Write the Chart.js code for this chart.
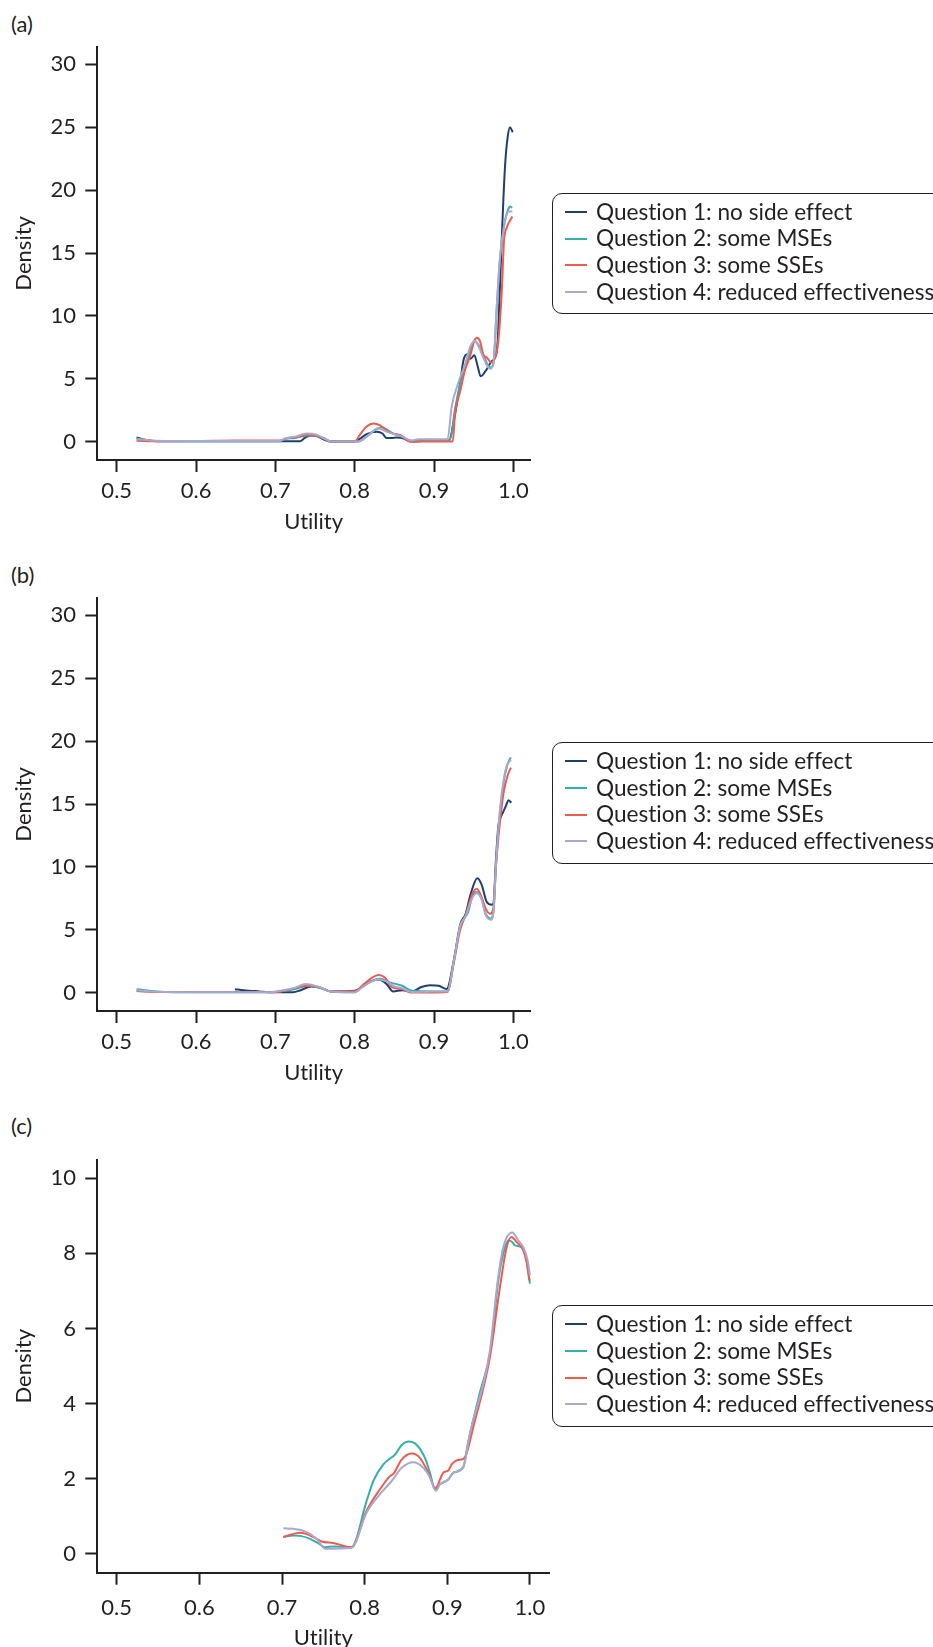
<!DOCTYPE html>
<html>
<head>
<meta charset="utf-8">
<script src="https://cdn.jsdelivr.net/npm/chart.js@4/dist/chart.umd.min.js"></script>
<style>
    html, body { margin: 0; padding: 0; background: #fff; overflow: hidden; }
    body { width: 933px; height: 1647px; position: relative; font-family: Lato, sans-serif; color: #231f20;
           font-variant-ligatures: none; }
    .panel-label { position: absolute; left: 11px; font-size: 22px; line-height: 26px; }
    canvas { position: absolute; left: 0; }
    .legend { position: absolute; left: 552px; width: 400px; box-sizing: border-box;
              border: 1.5px solid #231f20; border-radius: 10px; padding: 5px 0 8px 0; background: #fff; }
    .legend .item { position: relative; height: 26.7px; line-height: 26.7px; font-size: 22.6px;
                    white-space: nowrap; padding-left: 43px; }
    .legend .swatch { position: absolute; left: 12px; top: 12.4px; width: 22px; height: 2px; }
</style>
</head>
<body>
<div class="panel-label" style="top: 11px;">(a)</div>
<div class="panel-label" style="top: 562px;">(b)</div>
<div class="panel-label" style="top: 1113px;">(c)</div>

<canvas id="chartA" width="560" height="545" style="top: 0px;"></canvas>
<canvas id="chartB" width="560" height="545" style="top: 550.5px;"></canvas>
<canvas id="chartC" width="560" height="548" style="top: 1112.6px;"></canvas>

<div class="legend" id="legendA" style="top: 192.7px;"></div>
<div class="legend" id="legendB" style="top: 742px;"></div>
<div class="legend" id="legendC" style="top: 1305px;"></div>

<script>
// Series names and colours
const seriesLabels = [
    'Question 1: no side effect',
    'Question 2: some MSEs',
    'Question 3: some SSEs',
    'Question 4: reduced effectiveness',
];
const seriesColors = ['#1f3f70', '#33aeb1', '#ef5b4b', '#a8a9cf'];

// Tick values
const xTicks = [0.5, 0.6, 0.7, 0.8, 0.9, 1.0];
const yTicksAB = [0, 5, 10, 15, 20, 25, 30];
const yTicksC = [0, 2, 4, 6, 8, 10];

// (a) utility / density
const aQ1u = [0.525, 0.535, 0.55, 0.60, 0.65, 0.70, 0.731, 0.737, 0.744, 0.752, 0.760, 0.769, 0.80, 0.806, 0.815, 0.8277, 0.835, 0.840, 0.846, 0.853, 0.862, 0.870, 0.90, 0.919, 0.9244, 0.933, 0.9372, 0.942, 0.9462, 0.9508, 0.955, 0.9588, 0.9664, 0.9727, 0.979, 0.981, 0.9853, 0.9895, 0.9928, 0.9958, 0.9992];
const aQ1d = [0.34, 0.15, 0.04, 0.03, 0.03, 0.03, 0.03, 0.3, 0.5, 0.45, 0.2, 0.02, 0.02, 0.2, 0.6, 0.8, 0.65, 0.3, 0.3, 0.33, 0.25, 0.02, 0.1, 0.1, 1.46, 4.7, 6.5, 6.95, 6.6, 6.87, 6.0, 5.2, 5.75, 6.4, 7.1, 8.9, 16.0, 21.9, 24.2, 25.0, 24.6];
const aQ2u = [0.525, 0.55, 0.60, 0.65, 0.705, 0.712, 0.725, 0.74, 0.752, 0.762, 0.770, 0.805, 0.815, 0.825, 0.834, 0.842, 0.850, 0.860, 0.872, 0.880, 0.920, 0.9265, 0.933, 0.940, 0.9454, 0.951, 0.956, 0.962, 0.967, 0.9715, 0.9748, 0.979, 0.9832, 0.9883, 0.9937, 0.9958, 0.9987];
const aQ2d = [0.25, 0.05, 0.03, 0.03, 0.03, 0.2, 0.3, 0.5, 0.45, 0.2, 0.02, 0.02, 0.4, 0.9, 1.15, 0.9, 0.6, 0.4, 0.05, 0.13, 0.13, 2.6, 4.6, 6.0, 7.2, 8.0, 7.7, 6.9, 6.2, 5.9, 6.2, 10.5, 14.5, 17.2, 18.5, 18.7, 18.6];
const aQ3u = [0.525, 0.55, 0.60, 0.65, 0.70, 0.706, 0.715, 0.727, 0.74, 0.75, 0.762, 0.770, 0.80, 0.806, 0.815, 0.8235, 0.832, 0.8445, 0.857, 0.8697, 0.90, 0.9236, 0.9265, 0.9328, 0.9391, 0.9454, 0.9504, 0.954, 0.958, 0.962, 0.9664, 0.9727, 0.977, 0.981, 0.9853, 0.9883, 0.9916, 0.9987];
const aQ3d = [0.08, 0.03, 0.05, 0.1, 0.1, 0.1, 0.3, 0.35, 0.55, 0.5, 0.25, 0.02, 0.02, 0.5, 1.2, 1.45, 1.3, 0.72, 0.53, 0.02, 0.02, 0.02, 2.25, 3.96, 5.7, 6.76, 7.95, 8.27, 8.0, 6.95, 6.7, 6.3, 6.7, 8.0, 11.8, 16.0, 17.0, 17.9];
const aQ4u = [0.525, 0.55, 0.60, 0.65, 0.705, 0.712, 0.725, 0.7395, 0.752, 0.762, 0.770, 0.804, 0.815, 0.83, 0.84, 0.85, 0.86, 0.872, 0.880, 0.917, 0.9223, 0.9307, 0.9391, 0.9454, 0.951, 0.956, 0.962, 0.9706, 0.9748, 0.979, 0.9832, 0.9883, 0.9937, 0.9987];
const aQ4d = [0.2, 0.08, 0.05, 0.05, 0.05, 0.25, 0.4, 0.66, 0.55, 0.25, 0.02, 0.02, 0.4, 1.06, 0.8, 0.6, 0.4, 0.1, 0.19, 0.19, 2.8, 4.7, 6.15, 7.5, 8.0, 7.6, 6.7, 5.8, 6.2, 10.7, 14.7, 17.1, 18.3, 18.3];

// (b)
const bQ1u = [0.649, 0.66, 0.68, 0.695, 0.722, 0.732, 0.745, 0.757, 0.77, 0.80, 0.81, 0.82, 0.83, 0.84, 0.8485, 0.86, 0.872, 0.884, 0.895, 0.906, 0.916, 0.925, 0.933, 0.94, 0.946, 0.9546, 0.96, 0.9665, 0.972, 0.9748, 0.978, 0.981, 0.9832, 0.9874, 0.991, 0.9937, 0.9975];
const bQ1d = [0.28, 0.2, 0.1, 0.03, 0.03, 0.2, 0.5, 0.4, 0.1, 0.15, 0.5, 0.9, 1.05, 0.7, 0.1, 0.2, 0.1, 0.45, 0.6, 0.55, 0.3, 2.6, 5.4, 6.3, 7.8, 9.1, 8.6, 7.2, 7.0, 7.07, 10.5, 13.2, 13.8, 14.4, 14.9, 15.3, 15.1];
const bQ2u = [0.525, 0.55, 0.60, 0.69, 0.71, 0.725, 0.74, 0.755, 0.77, 0.80, 0.81, 0.82, 0.832, 0.845, 0.86, 0.872, 0.90, 0.917, 0.925, 0.933, 0.938, 0.943, 0.948, 0.954, 0.96, 0.965, 0.9715, 0.975, 0.978, 0.983, 0.988, 0.992, 0.9967];
const bQ2d = [0.28, 0.1, 0.03, 0.03, 0.15, 0.3, 0.55, 0.4, 0.1, 0.1, 0.5, 0.9, 1.1, 0.8, 0.55, 0.15, 0.1, 0.1, 2.5, 5.3, 5.9, 6.4, 7.6, 8.0, 7.5, 6.3, 5.9, 6.5, 10.0, 14.2, 16.8, 18.0, 18.7];
const bQ3u = [0.525, 0.55, 0.70, 0.72, 0.74, 0.755, 0.77, 0.80, 0.812, 0.822, 0.83, 0.838, 0.848, 0.86, 0.87, 0.90, 0.917, 0.925, 0.933, 0.94, 0.948, 0.9538, 0.96, 0.965, 0.9706, 0.975, 0.978, 0.983, 0.988, 0.993, 0.997];
const bQ3d = [0.14, 0.05, 0.05, 0.3, 0.55, 0.45, 0.1, 0.1, 0.7, 1.2, 1.4, 1.2, 0.4, 0.3, 0.02, 0.02, 0.05, 2.4, 5.0, 6.2, 7.8, 8.26, 7.6, 6.7, 6.27, 6.8, 10.0, 13.5, 16.0, 17.3, 17.9];
const bQ4u = [0.525, 0.55, 0.69, 0.71, 0.725, 0.738, 0.755, 0.77, 0.80, 0.81, 0.82, 0.83, 0.84, 0.85, 0.86, 0.872, 0.90, 0.917, 0.925, 0.933, 0.94, 0.948, 0.954, 0.96, 0.965, 0.9715, 0.975, 0.978, 0.983, 0.988, 0.992, 0.997];
const bQ4d = [0.2, 0.08, 0.03, 0.2, 0.4, 0.69, 0.45, 0.1, 0.02, 0.45, 0.85, 1.05, 0.9, 0.5, 0.35, 0.05, 0.1, 0.1, 2.5, 5.3, 6.1, 7.5, 7.9, 7.4, 6.2, 5.8, 6.4, 10.0, 14.5, 17.0, 18.1, 18.5];

// (c) - no visible curve for question 1
const cQ1u = [];
const cQ1d = [];
const cQ2u = [0.7016, 0.7137, 0.722, 0.734, 0.744, 0.752, 0.762, 0.784, 0.8024, 0.8105, 0.8226, 0.8327, 0.8367, 0.8448, 0.8528, 0.863, 0.873, 0.879, 0.885, 0.891, 0.9012, 0.9073, 0.9193, 0.9254, 0.9395, 0.9516, 0.9556, 0.9617, 0.9677, 0.9738, 0.9786, 0.9818, 0.99, 0.996, 1.0];
const cQ2d = [0.45, 0.49, 0.48, 0.4, 0.28, 0.18, 0.2, 0.18, 1.41, 1.94, 2.38, 2.57, 2.64, 2.9, 2.99, 2.9, 2.55, 2.16, 1.72, 1.85, 1.98, 2.16, 2.31, 3.0, 4.3, 5.33, 6.04, 7.28, 7.99, 8.34, 8.3, 8.21, 8.16, 7.81, 7.19];
const cQ3u = [0.7016, 0.722, 0.738, 0.748, 0.762, 0.784, 0.8024, 0.8185, 0.8306, 0.8347, 0.8448, 0.8569, 0.867, 0.877, 0.8855, 0.8952, 0.9012, 0.9052, 0.9113, 0.9194, 0.9225, 0.9314, 0.9516, 0.9637, 0.9718, 0.9778, 0.9839, 0.992, 0.996, 0.9992];
const cQ3d = [0.45, 0.56, 0.45, 0.33, 0.29, 0.18, 1.15, 1.72, 2.07, 2.13, 2.51, 2.67, 2.55, 2.16, 1.75, 2.16, 2.22, 2.38, 2.49, 2.53, 2.62, 3.37, 5.24, 7.1, 8.16, 8.43, 8.3, 8.07, 7.76, 7.28];
const cQ4u = [0.7016, 0.7137, 0.73, 0.742, 0.752, 0.784, 0.8024, 0.8185, 0.8327, 0.8448, 0.8589, 0.871, 0.879, 0.8863, 0.891, 0.9012, 0.9073, 0.9193, 0.9274, 0.9516, 0.9605, 0.9677, 0.9786, 0.9859, 0.992, 0.9972, 1.0];
const cQ4d = [0.68, 0.67, 0.58, 0.4, 0.14, 0.16, 1.1, 1.59, 1.94, 2.29, 2.44, 2.29, 2.03, 1.68, 1.85, 1.98, 2.16, 2.31, 3.2, 5.42, 7.19, 8.16, 8.55, 8.34, 8.16, 7.81, 7.41];

const axisColor = '#231f20';
Chart.defaults.font.family = 'Lato, sans-serif';
Chart.defaults.font.size = 22;
Chart.defaults.color = axisColor;

// Tiny letter spacing keeps the canvas from using the "ti" ligature
const noLigatures = {
    id: 'noLigatures',
    beforeDraw: chart => { chart.ctx.letterSpacing = '0.01px'; },
};

// Pair up utility and density arrays
function toPoints(us, ds) {
    return us.map((u, i) => ({ x: u, y: ds[i] }));
}

function buildDatasets(curves) {
    return curves.map((c, i) => ({
        label: seriesLabels[i],
        data: toPoints(c[0], c[1]),
        borderColor: seriesColors[i],
        backgroundColor: seriesColors[i],
        borderWidth: 2,
        pointRadius: 0,
        fill: false,
        cubicInterpolationMode: 'monotone',
        order: 4 - i, // question 4 drawn on top
    }));
}

function createChart(canvasId, curves, cfg) {
    const ctx = document.getElementById(canvasId).getContext('2d');
    return new Chart(ctx, {
        type: 'line',
        data: { datasets: buildDatasets(curves) },
        plugins: [noLigatures],
        options: {
            responsive: false,
            animation: false,
            layout: { padding: { top: 46.7, right: cfg.padRight, bottom: 0, left: 0 } },
            plugins: { legend: { display: false }, tooltip: { enabled: false } },
            scales: {
                x: {
                    type: 'linear',
                    min: cfg.xMin,
                    max: cfg.xMax,
                    afterBuildTicks: axis => { axis.ticks = xTicks.map(v => ({ value: v })); },
                    afterFit: axis => { axis.height = cfg.xAxisHeight; },
                    ticks: { padding: cfg.xTickPad, maxRotation: 0, callback: v => v.toFixed(1) },
                    grid: { drawOnChartArea: false, drawTicks: true, tickLength: 12, tickWidth: 2, tickColor: axisColor },
                    border: { display: true, color: axisColor, width: 2 },
                    title: { display: true, text: 'Utility', padding: { top: 0, bottom: cfg.xTitlePad } },
                },
                y: {
                    type: 'linear',
                    min: cfg.yMin,
                    max: cfg.yMax,
                    afterBuildTicks: axis => { axis.ticks = cfg.yTicks.map(v => ({ value: v })); },
                    afterFit: axis => { axis.width = 97.3; },
                    ticks: { padding: 9.3, callback: v => String(v) },
                    grid: { drawOnChartArea: false, drawTicks: true, tickLength: 12, tickWidth: 2, tickColor: axisColor },
                    border: { display: true, color: axisColor, width: 2 },
                    title: { display: true, text: 'Density', padding: { top: 10.8, bottom: 0 } },
                },
            },
        },
    });
}

// Legend built from the chart's own datasets
function renderLegend(chart, legendId) {
    const box = document.getElementById(legendId);
    chart.data.datasets.forEach(ds => {
        const item = document.createElement('div');
        item.className = 'item';
        const swatch = document.createElement('span');
        swatch.className = 'swatch';
        swatch.style.background = ds.borderColor;
        item.appendChild(swatch);
        item.appendChild(document.createTextNode(ds.label));
        box.appendChild(item);
    });
}

const chartA = createChart('chartA', [[aQ1u, aQ1d], [aQ2u, aQ2d], [aQ3u, aQ3d], [aQ4u, aQ4d]], {
    xMin: 0.4755, xMax: 1.021, yMin: -1.455, yMax: 31.4, yTicks: yTicksAB,
    padRight: 30, xAxisHeight: 85, xTickPad: 5.5, xTitlePad: 10.1,
});
const chartB = createChart('chartB', [[bQ1u, bQ1d], [bQ2u, bQ2d], [bQ3u, bQ3d], [bQ4u, bQ4d]], {
    xMin: 0.4755, xMax: 1.021, yMin: -1.455, yMax: 31.4, yTicks: yTicksAB,
    padRight: 30, xAxisHeight: 85, xTickPad: 5.5, xTitlePad: 10.1,
});
const chartC = createChart('chartC', [[cQ1u, cQ1d], [cQ2u, cQ2d], [cQ3u, cQ3d], [cQ4u, cQ4d]], {
    xMin: 0.4765, xMax: 1.0234, yMin: -0.5, yMax: 10.49, yTicks: yTicksC,
    padRight: 10.7, xAxisHeight: 88.3, xTickPad: 9.8, xTitlePad: 9.4,
});

renderLegend(chartA, 'legendA');
renderLegend(chartB, 'legendB');
renderLegend(chartC, 'legendC');
</script>
</body>
</html>
